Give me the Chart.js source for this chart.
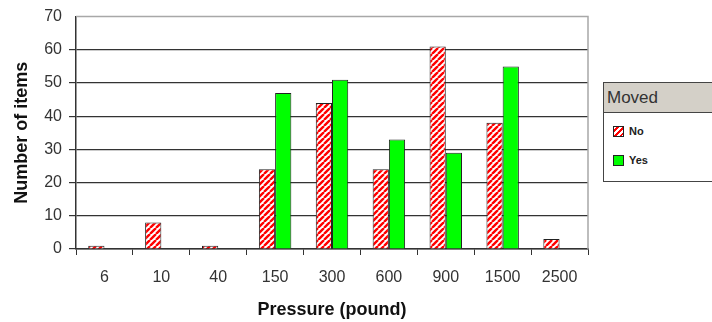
<!DOCTYPE html>
<html>
<head>
<meta charset="utf-8">
<script src="https://cdn.jsdelivr.net/npm/chart.js@4.4.1/dist/chart.umd.min.js"></script>
<style>
  body { margin: 0; background: #fff; }
  #wrap { position: relative; width: 712px; height: 322px; overflow: hidden; }
  #legend {
    position: absolute; left: 603px; top: 82px; width: 130px; height: 98px;
    border: 1px solid #444; background: #fff; font-family: "Liberation Sans", Arial, sans-serif;
  }
  #legend .title {
    height: 29px; background: #d4d0c8; border-bottom: 1px solid #444;
    font-size: 17px; color: #333; line-height: 29px; padding-left: 3px;
  }
  #legend .item { position: absolute; left: 9px; font-size: 11px; font-weight: bold; color: #222; }
  #legend .sw { display: inline-block; width: 9px; height: 9px; border: 1px solid #222; vertical-align: -2px; margin-right: 5px; }
</style>
</head>
<body>
<div id="wrap">
  <canvas id="chart" width="712" height="322"></canvas>
  <div id="legend">
    <div class="title">Moved</div>
    <div class="item" style="top:42px"><span class="sw" style="background:repeating-linear-gradient(135deg,#fff 0 2px,#f00 2px 4px)"></span>No</div>
    <div class="item" style="top:71px"><span class="sw" style="background:#00ff00"></span>Yes</div>
  </div>
</div>
<script>
const pressures = ["6", "10", "40", "150", "300", "600", "900", "1500", "2500"]
const movedNo = [1, 8, 1, 24, 44, 24, 61, 38, 3]
const movedYes = [null, null, null, 47, 51, 33, 29, 55, null]

function hatch() {
  const c = document.createElement("canvas")
  c.width = 6
  c.height = 6
  const ctx = c.getContext("2d")
  ctx.fillStyle = "#fff"
  ctx.fillRect(0, 0, 6, 6)
  ctx.strokeStyle = "#ff0000"
  ctx.lineWidth = 2.4
  ctx.beginPath()
  for (let k = -6; k <= 12; k += 6) {
    ctx.moveTo(k, 6)
    ctx.lineTo(k + 6, 0)
  }
  ctx.stroke()
  return ctx.createPattern(c, "repeat")
}

// grey frame on the top and right of the plot
const frame = {
  id: "frame",
  afterDatasetsDraw(chart) {
    const a = chart.chartArea
    const ctx = chart.ctx
    ctx.save()
    ctx.strokeStyle = "#a8a8a8"
    ctx.lineWidth = 1.5
    ctx.beginPath()
    ctx.moveTo(a.left, a.top)
    ctx.lineTo(a.right, a.top)
    ctx.lineTo(a.right, a.bottom)
    ctx.stroke()
    ctx.restore()
  }
}

const tickFont = { family: "Liberation Sans", size: 16 }
const titleFont = { family: "Liberation Sans", size: 18, weight: "bold" }

const chart = new Chart(document.querySelector("#chart"), {
  type: "bar",
  data: {
    labels: pressures,
    datasets: [
      { label: "No", data: movedNo, backgroundColor: hatch(), borderColor: "#222", borderWidth: 1 },
      { label: "Yes", data: movedYes, backgroundColor: "#00ff00", borderColor: "#222", borderWidth: 1 }
    ]
  },
  options: {
    responsive: false,
    animation: false,
    layout: { padding: { left: 9, right: 124, top: 15, bottom: 0 } },
    datasets: { bar: { categoryPercentage: 0.57, barPercentage: 1.0 } },
    plugins: { legend: { display: false }, tooltip: { enabled: false } },
    scales: {
      x: {
        afterFit: (s) => { s.height = 73 },
        grid: { drawOnChartArea: false, drawTicks: true, tickLength: 6, color: "#333" },
        border: { color: "#333", width: 1.5 },
        ticks: { color: "#333", font: tickFont, padding: 13, maxRotation: 0 },
        title: { display: true, text: "Pressure (pound)", color: "#111", font: titleFont, padding: { top: 0, bottom: 1 } }
      },
      y: {
        min: 0,
        max: 70,
        afterFit: (s) => { s.width = 67 },
        ticks: { stepSize: 10, color: "#333", font: tickFont, padding: 7 },
        grid: { color: (c) => c.tick && c.tick.value === 70 ? "rgba(0,0,0,0)" : "#333", lineWidth: 1.2, tickLength: 7 },
        border: { color: "#333", width: 1.5 },
        title: { display: true, text: "Number of items", color: "#111", font: titleFont, padding: { top: 2, bottom: 0 } }
      }
    }
  },
  plugins: [frame]
})
</script>
</body>
</html>
